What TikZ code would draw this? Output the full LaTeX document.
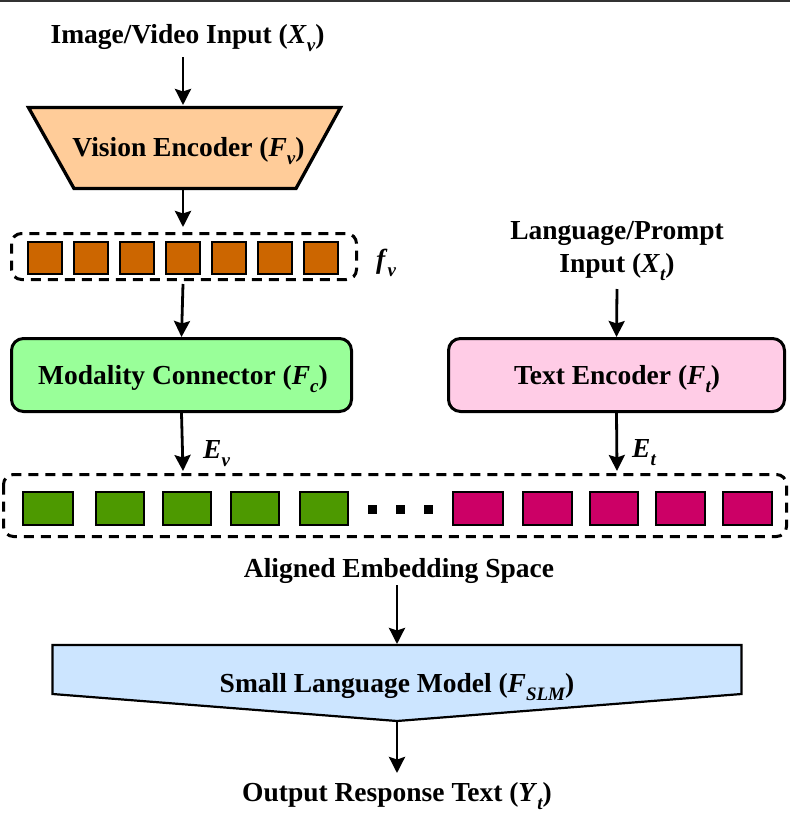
\documentclass[tikz,border=0pt]{standalone}
\usepackage{fontspec}
\setmainfont{Liberation Serif}[BoldFont={Liberation Serif Bold},ItalicFont={Liberation Serif Italic},BoldItalicFont={Liberation Serif Bold Italic}]
\usetikzlibrary{arrows.meta}
\definecolor{peach}{HTML}{FFCC99}
\definecolor{orangebox}{HTML}{CC6600}
\definecolor{lightgreen}{HTML}{99FF99}
\definecolor{lightpink}{HTML}{FFCCE6}
\definecolor{greenbox}{HTML}{4D9900}
\definecolor{pinkbox}{HTML}{CC0066}
\definecolor{lightblue}{HTML}{CCE5FF}
\definecolor{topline}{HTML}{333333}
\newcommand\lowsub[1]{\raisebox{-0.3em}{\fontsize{19}{19}\selectfont\bfseries\itshape #1}}
\begin{document}
\begin{tikzpicture}[x=1pt,y=-1pt,
  lbl/.style={anchor=base,font=\rmfamily\bfseries\fontsize{27.5}{33}\selectfont,inner sep=0pt,align=center},
  arr/.style={line width=2.8pt,-{Stealth[length=16pt,width=16pt,inset=2.5pt]}},
  dashbox/.style={draw,line width=3pt,dash pattern=on 10pt off 7pt,rounded corners=10pt},
  roundbox/.style={draw,line width=3pt,rounded corners=12pt,inner sep=0pt},
  cell/.style={draw,line width=1.5pt}]
\useasboundingbox (0,0) rectangle (790,825);
\fill[topline] (0,0) rectangle (790,2);

% ---- vision branch ----
\node[lbl] (imgin) at (187.5,43) {Image/Video Input (\textit{X}\lowsub{v})};
\coordinate (imginS) at (183,57);
\filldraw[fill=peach,line width=3.3pt,line join=miter] (28.5,107.5) -- (340.5,107.5) -- (296,188.5) -- (74,188.5) -- cycle;
\coordinate (veN) at (183,105);
\coordinate (veS) at (183,190);
\node[lbl] (velbl) at (188.5,156) {Vision Encoder (\textit{F}\lowsub{v})};
\draw[arr] (imginS) -- (veN);

\draw[dashbox] (11.5,233.5) rectangle (356.5,279.5);
\coordinate (fvN) at (183,227);
\coordinate (fvS) at (183,284);
\foreach \x in {28,74,120,166,212,258,304}
  \filldraw[cell,fill=orangebox] (\x,242) rectangle ++(34,32);
\node[lbl,anchor=base west] (fvlbl) at (376,268) {\textit{f}\lowsub{v}};
\draw[arr] (veS) -- (fvN);

\node[roundbox,fill=lightgreen,minimum width=340pt,minimum height=73pt] (mc) at (181.5,375) {};
\node[lbl] (mclbl) at (183,384) {Modality Connector (\textit{F}\lowsub{c})};
\draw[arr] (fvS) -- (mc.north);

% ---- text branch ----
\node[lbl] (lpin) at (617,272) {Language/Prompt\\Input (\textit{X}\lowsub{t})};
\coordinate (lpinS) at (617,289);
\node[roundbox,fill=lightpink,minimum width=336pt,minimum height=73pt] (te) at (616.5,375) {};
\node[lbl] (telbl) at (617,384) {Text Encoder (\textit{F}\lowsub{t})};
\draw[arr] (lpinS) -- (te.north);

% ---- aligned embedding ----
\draw[dashbox] (3.5,474.5) rectangle (786.5,536.5);
\coordinate (embN1) at (183,471);
\coordinate (embN2) at (617,471);
\draw[arr] (mc.south) -- (embN1);
\draw[arr] (te.south) -- (embN2);
\node[lbl,anchor=base west] (evlbl) at (203,458) {\textit{E}\lowsub{v}};
\node[lbl,anchor=base west] (etlbl) at (632,457) {\textit{E}\lowsub{t}};

\foreach \x/\w in {23/50,96/48,163/48,231/48,300/48}
  \filldraw[cell,fill=greenbox] (\x,492) rectangle ++(\w,33);
\foreach \x in {372,400,428}
  \fill (\x-4.5,504.5) rectangle ++(9,9);
\foreach \x/\w in {453/50,523/49,590/48,656/49,723/49}
  \filldraw[cell,fill=pinkbox] (\x,492) rectangle ++(\w,33);

\node[lbl] (aes) at (399,577) {Aligned Embedding Space};
\coordinate (aesS) at (397,585);

% ---- SLM ----
\filldraw[fill=lightblue,line width=2.2pt,line join=miter] (52.5,645) -- (741.5,645) -- (741.5,694) -- (397,721) -- (52.5,694) -- cycle;
\coordinate (slmN) at (397,644);
\coordinate (slmS) at (397,721);
\node[lbl] (slmlbl) at (397,692) {Small Language Model (\textit{F}\lowsub{SLM})};
\draw[arr] (aesS) -- (slmN);

\node[lbl] (out) at (397,801) {Output Response Text (\textit{Y}\lowsub{t})};
\coordinate (outN) at (397,773);
\draw[arr] (slmS) -- (outN);
\end{tikzpicture}
\end{document}
